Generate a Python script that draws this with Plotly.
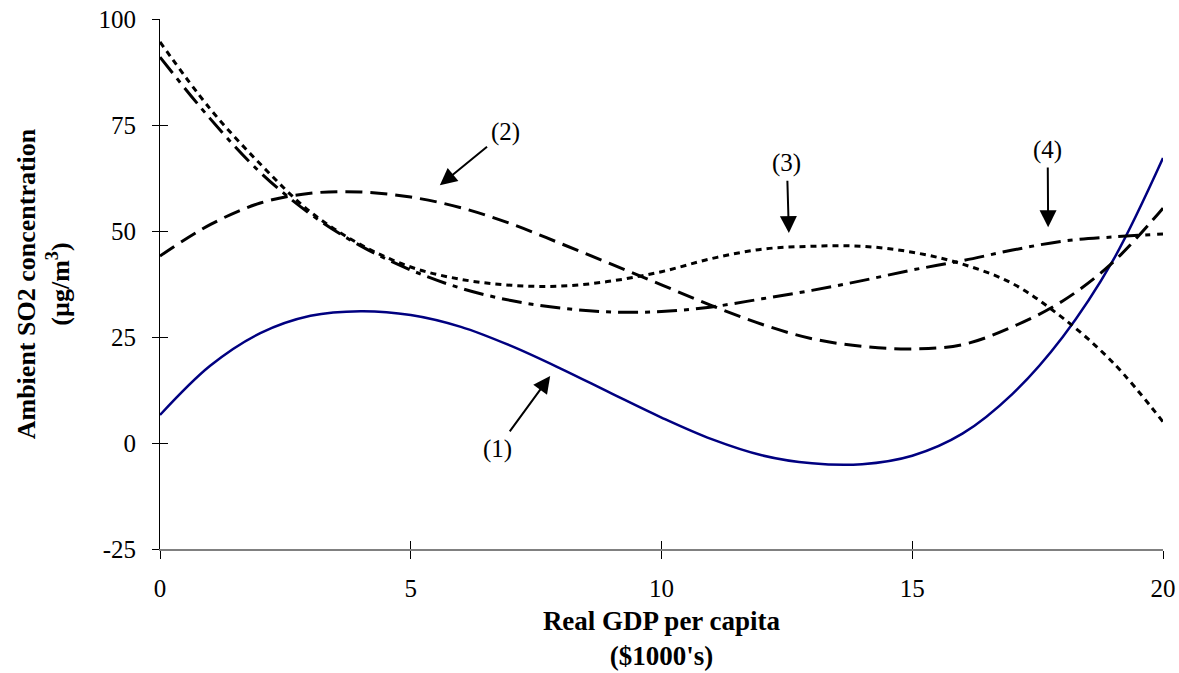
import plotly.graph_objects as go

# ---- data ----
gdp = list(range(0, 21))
curve1 = [6.6, 18.2, 25.9, 30.0, 31.1, 30.2, 27.4, 22.9, 17.5, 11.7, 6.0,
          0.9, -2.9, -4.8, -5.0, -3.0, 2.2, 11.6, 25.0, 43.0, 67.2]
curve2 = [44.1, 51.5, 56.6, 58.9, 59.2, 58.0, 55.5, 51.7, 47.0, 42.2, 37.3,
          32.4, 28.0, 24.6, 22.8, 22.2, 23.2, 27.4, 33.5, 42.6, 55.4]
curve3 = [94.6, 78.8, 65.8, 54.5, 46.8, 41.5, 38.6, 37.2, 37.0, 38.2, 40.4,
          43.5, 45.7, 46.4, 46.4, 45.0, 42.2, 37.6, 29.5, 19.0, 5.0]
curve4 = [91.0, 76.5, 63.8, 54.0, 46.5, 40.8, 36.5, 33.6, 31.8, 30.9, 31.0,
          32.1, 34.0, 36.0, 38.3, 40.8, 43.0, 45.5, 47.6, 48.6, 49.3]

x_tick_vals = [0, 5, 10, 15, 20]
x_tick_text = ["0", "5", "10", "15", "20"]
y_tick_vals = [-25, 0, 25, 50, 75, 100]
y_tick_text = ["-25", "0", "25", "50", "75", "100"]

labels = ["(1)", "(2)", "(3)", "(4)"]
label_x = [6.72, 6.88, 12.5, 17.7]
label_y = [-1.4, 73.3, 66.0, 69.1]
arrow_head_x = [7.78, 5.58, 12.54, 17.71]
arrow_head_y = [15.8, 60.8, 49.5, 50.9]

FONT = "Liberation Serif"

fig = go.Figure()
styles = [
    (curve1, dict(color="#000080", width=2.5, dash="solid")),
    (curve2, dict(color="black", width=3, dash="17px,8px")),
    (curve3, dict(color="black", width=3, dash="6px,5px")),
    (curve4, dict(color="black", width=3, dash="20px,7px,5px,7px")),
]
for ys, ln in styles:
    fig.add_trace(go.Scatter(x=gdp, y=ys, mode="lines",
                             line=dict(shape="spline", **ln),
                             hoverinfo="skip"))

for i in range(len(labels)):
    fig.add_annotation(x=arrow_head_x[i], y=arrow_head_y[i],
                       ax=label_x[i], ay=label_y[i],
                       xref="x", yref="y", axref="x", ayref="y",
                       text=labels[i], showarrow=True, arrowhead=2,
                       arrowsize=1.7, arrowwidth=2, arrowcolor="black",
                       borderpad=3,
                       font=dict(family=FONT, size=25, color="black"))

fig.update_layout(
    width=1179, height=673,
    margin=dict(l=160, r=16, t=19, b=124, autoexpand=False),
    plot_bgcolor="white", paper_bgcolor="white",
    showlegend=False,
    font=dict(family=FONT, size=25, color="black"),
    xaxis=dict(range=[0, 20], tickvals=x_tick_vals, ticktext=x_tick_text,
               showline=True, linecolor="#808080", linewidth=2,
               ticks="outside", ticklen=8, tickcolor="black", tickwidth=1,
               showgrid=False, zeroline=False, ticklabelstandoff=8,
               automargin=False,
               tickfont=dict(family=FONT, size=25, color="black"),
               title=dict(text="<b>Real GDP per capita</b><br><b>($1000's)</b>",
                          font=dict(family=FONT, size=27, color="black"),
                          standoff=10)),
    yaxis=dict(range=[-25, 100], tickvals=y_tick_vals, ticktext=y_tick_text,
               showline=True, linecolor="black", linewidth=1,
               ticks="outside", ticklen=7, tickcolor="black", tickwidth=1,
               showgrid=False, zeroline=False, ticklabelstandoff=11,
               automargin=False,
               tickfont=dict(family=FONT, size=25, color="black"),
               title=dict(text="<b>Ambient SO2 concentration</b><br><b>(µg/m<sup>3</sup>)</b>",
                          font=dict(family=FONT, size=26, color="black"),
                          standoff=21)),
    xaxis2=dict(overlaying="x", anchor="y", side="bottom", range=[0, 20],
                tickvals=x_tick_vals, ticks="inside", ticklen=8,
                tickcolor="black", tickwidth=1, showticklabels=False,
                showline=False, showgrid=False, zeroline=False,
                automargin=False),
    yaxis2=dict(overlaying="y", anchor="x", side="left", range=[-25, 100],
                tickvals=y_tick_vals, ticks="inside", ticklen=8,
                tickcolor="black", tickwidth=1, showticklabels=False,
                showline=False, showgrid=False, zeroline=False,
                automargin=False),
)
# invisible trace so overlay axes are rendered
fig.add_trace(go.Scatter(x=[None], y=[None], xaxis="x2", yaxis="y2",
                         mode="lines", hoverinfo="skip", showlegend=False))

fig.write_html("out.html", config={"displayModeBar": False},
               post_script="document.body.style.margin='0px';")
